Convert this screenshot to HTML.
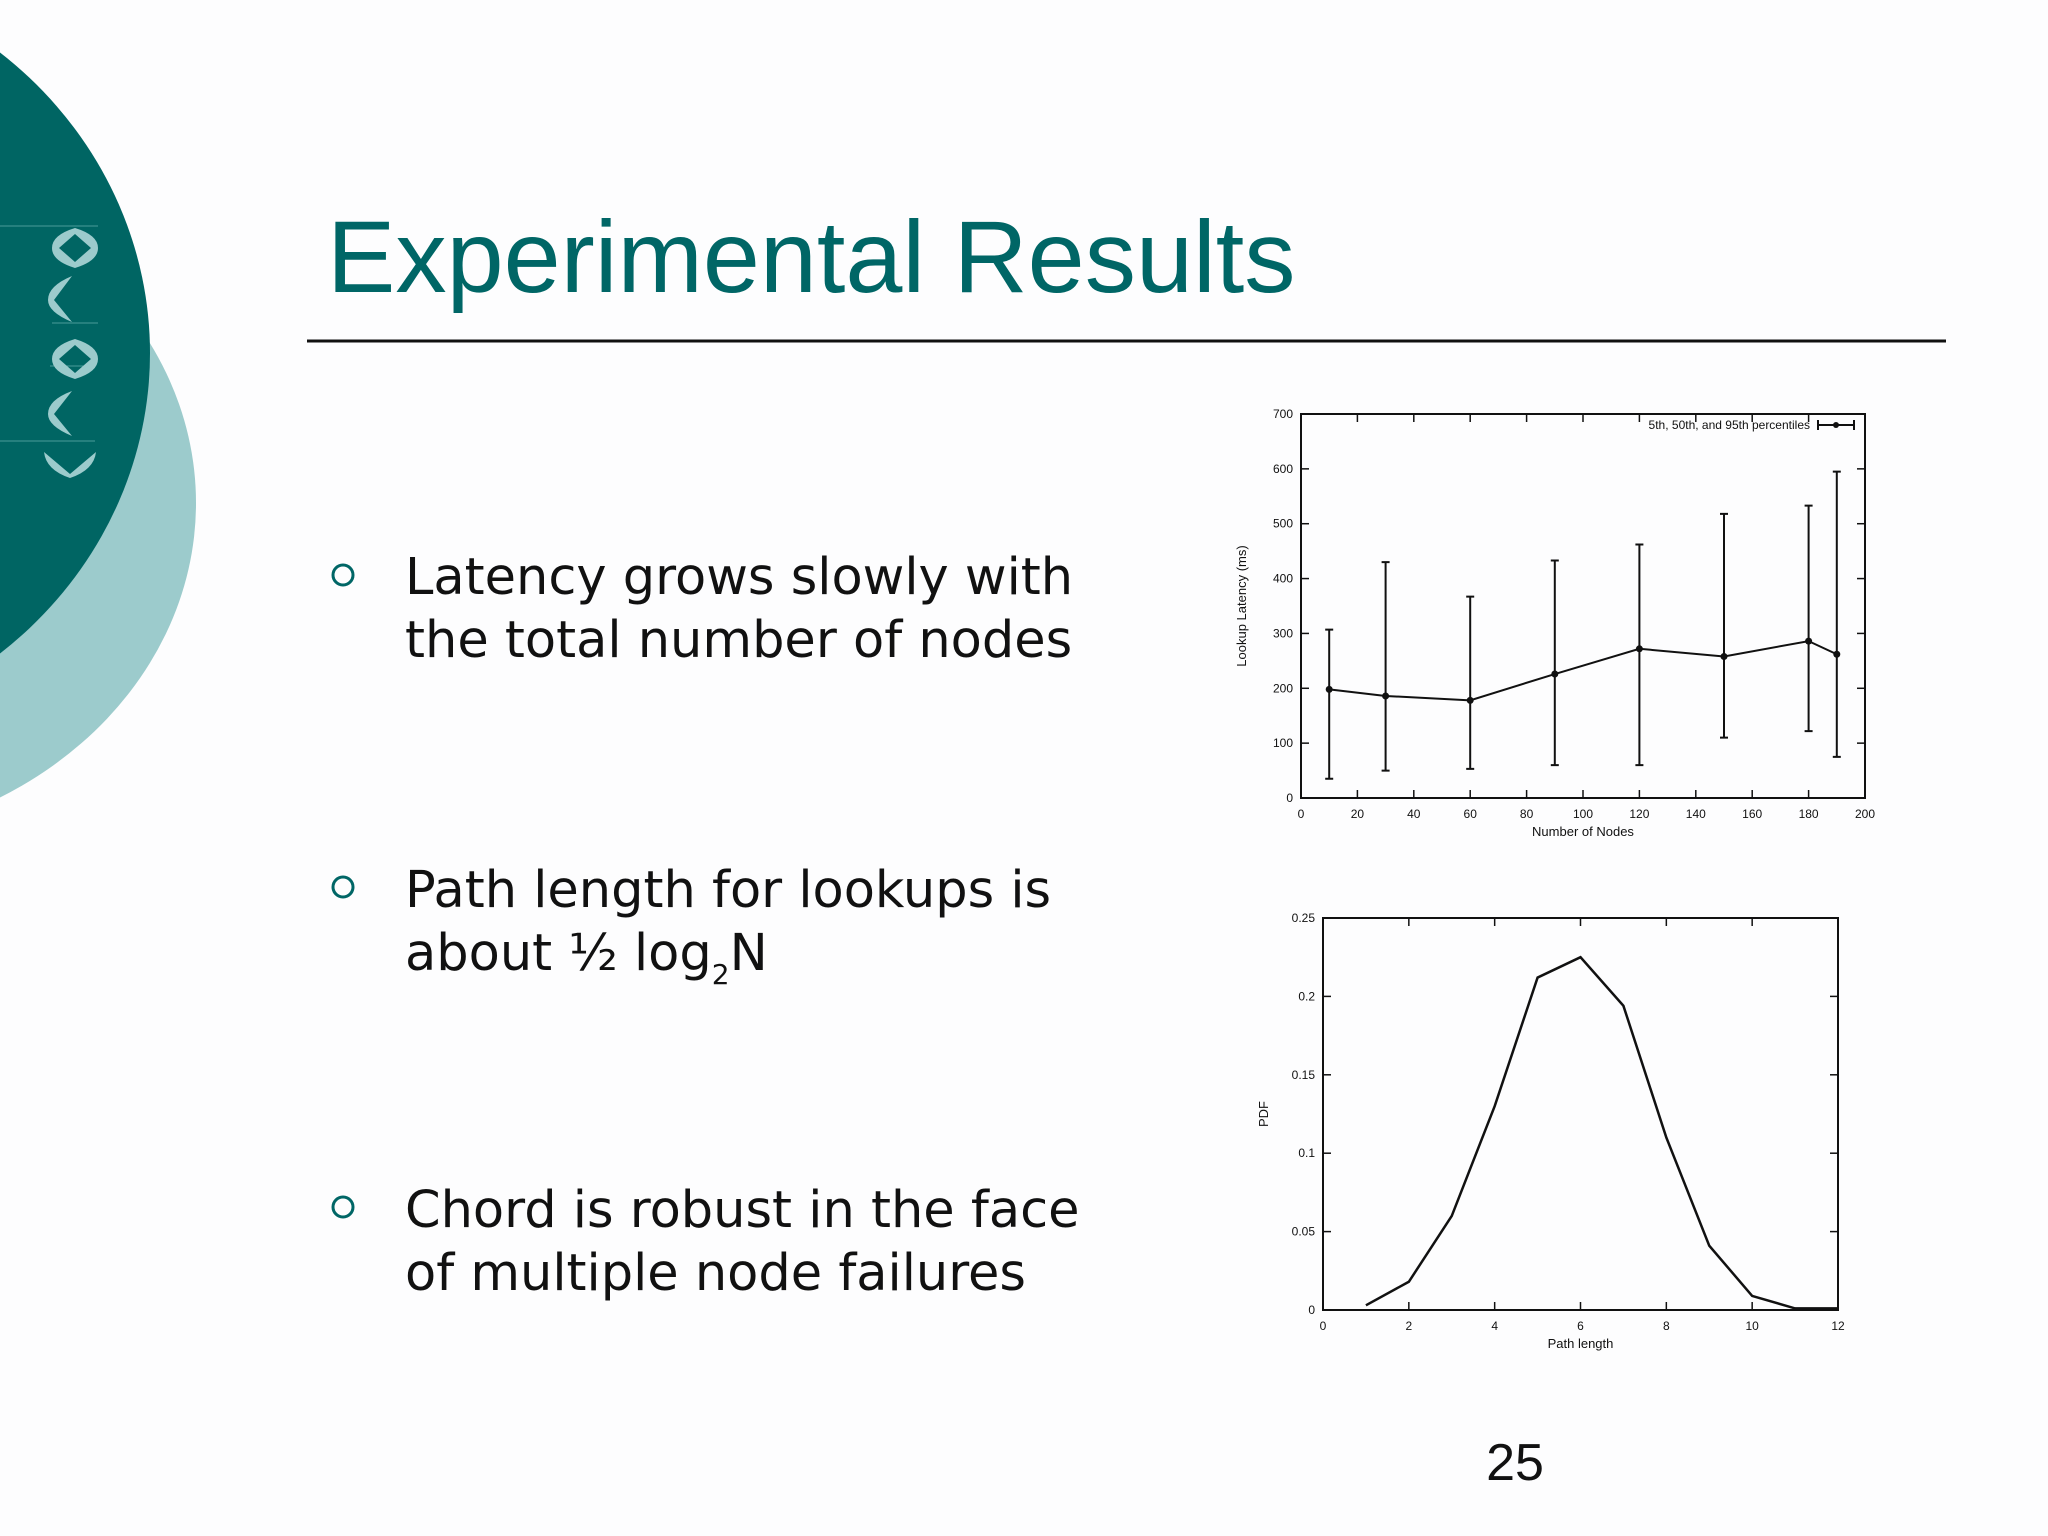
<!DOCTYPE html>
<html><head><meta charset="utf-8"><style>
html,body{margin:0;padding:0;background:#fdfdfe;}
svg{display:block;}
text{font-family:"Liberation Sans",sans-serif;}
</style></head><body>
<svg width="2048" height="1536" viewBox="0 0 2048 1536" xmlns="http://www.w3.org/2000/svg">
<rect width="2048" height="1536" fill="#fdfdfe"/>
<g>
<ellipse cx="-196" cy="503" rx="392" ry="340" fill="#9ccbcc"/>
<ellipse cx="-261" cy="353" rx="411" ry="389" fill="#006563"/>
<g fill="#9ccbcc" stroke="none">
<line x1="0" y1="226" x2="98" y2="226" stroke="#4a9a98" stroke-width="1"/>
<line x1="52" y1="323" x2="98" y2="323" stroke="#4a9a98" stroke-width="1"/>
<line x1="50" y1="366" x2="95" y2="366" stroke="#4a9a98" stroke-width="1"/>
<line x1="0" y1="441" x2="95" y2="441" stroke="#4a9a98" stroke-width="1"/>
<path d="M75 228 Q98 235 98 248 Q98 261 75 268 Q52 261 52 248 Q52 235 75 228 Z M75 234 L59 248 L75 262 L91 248 Z" fill-rule="evenodd"/>
<path d="M72 276 L54 300 L72 322 Q48 312 48 300 Q48 286 72 276 Z"/>
<path d="M75 339 Q98 346 98 359 Q98 372 75 379 Q52 372 52 359 Q52 346 75 339 Z M75 345 L59 359 L75 373 L91 359 Z" fill-rule="evenodd"/>
<path d="M72 391 L54 414 L72 436 Q48 426 48 414 Q48 400 72 391 Z"/>
<path d="M44 452 L70 474 L96 452 Q94 470 70 478 Q46 470 44 452 Z"/>
</g>
</g>
<text x="327" y="292" font-size="102.5" fill="#006666">Experimental Results</text>
<line x1="307" y1="341" x2="1946" y2="341" stroke="#111" stroke-width="3"/>
<g font-size="51" fill="#111">
<circle cx="343" cy="575" r="10" fill="none" stroke="#006666" stroke-width="3"/>
<text x="405" y="594" style="font-family:'DejaVu Sans',sans-serif">Latency grows slowly with</text>
<text x="405" y="657" style="font-family:'DejaVu Sans',sans-serif">the total number of nodes</text>
<circle cx="343" cy="887" r="10" fill="none" stroke="#006666" stroke-width="3"/>
<text x="405" y="907" style="font-family:'DejaVu Sans',sans-serif">Path length for lookups is</text>
<text x="405" y="970" style="font-family:'DejaVu Sans',sans-serif">about ½ log<tspan font-size="28" dy="14">2</tspan><tspan dy="-14">N</tspan></text>
<circle cx="343" cy="1207" r="10" fill="none" stroke="#006666" stroke-width="3"/>
<text x="405" y="1227" style="font-family:'DejaVu Sans',sans-serif">Chord is robust in the face</text>
<text x="405" y="1290" style="font-family:'DejaVu Sans',sans-serif">of multiple node failures</text>
</g>
<g id="chart1"></g>
<g id="chart2"></g>
<text x="1515" y="1480" font-size="52" text-anchor="middle" fill="#111">25</text>
</svg>
<script>
const NS="http://www.w3.org/2000/svg";
const latencyX=[10,30,60,90,120,150,180,190];
const latencyMedian=[198,186,178,226,272,258,286,262];
const latencyLow=[35,50,53,60,60,110,122,75];
const latencyHigh=[307,430,367,433,462,518,533,595];
const latencyXTicks=[0,20,40,60,80,100,120,140,160,180,200];
const latencyYTicks=[0,100,200,300,400,500,600,700];
const pathX=[1,2,3,4,5,6,7,8,9,10,11,12];
const pathPdf=[0.003,0.018,0.06,0.13,0.212,0.225,0.194,0.11,0.041,0.009,0.001,0.001];
const pathXTicks=[0,2,4,6,8,10,12];
const pathYTicks=[0,0.05,0.1,0.15,0.2,0.25];
const pathYLabels=["0","0.05","0.1","0.15","0.2","0.25"];

function mk(parent,tag,attrs,txt){const e=document.createElementNS(NS,tag);for(const k in attrs)e.setAttribute(k,attrs[k]);if(txt!==undefined)e.textContent=txt;parent.appendChild(e);return e;}

function axes(g,L,R,T,B,xmin,xmax,ymin,ymax,xt,yt,ylabels,xtitle,ytitle){
  const sx=v=>L+(v-xmin)/(xmax-xmin)*(R-L);
  const sy=v=>B-(v-ymin)/(ymax-ymin)*(B-T);
  const frame=mk(g,'rect',{x:L,y:T,width:R-L,height:B-T,fill:'none',stroke:'#111','stroke-width':2});
  
  
  xt.forEach(v=>{
    const x=sx(v);
    mk(g,'line',{x1:x,y1:B,x2:x,y2:B-8,stroke:'#111','stroke-width':1.5});
    mk(g,'line',{x1:x,y1:T,x2:x,y2:T+8,stroke:'#111','stroke-width':1.5});
    const t=mk(g,'text',{x:x,y:B+20,'font-size':12,'text-anchor':'middle',fill:'#111'},String(v));
    
    
  });
  yt.forEach((v,i)=>{
    const y=sy(v);
    mk(g,'line',{x1:L,y1:y,x2:L+8,y2:y,stroke:'#111','stroke-width':1.5});
    mk(g,'line',{x1:R,y1:y,x2:R-8,y2:y,stroke:'#111','stroke-width':1.5});
    const t=mk(g,'text',{x:L-8,y:y+4,'font-size':12,'text-anchor':'end',fill:'#111'},ylabels?ylabels[i]:String(v));
    
    
  });
  const xtT=mk(g,'text',{x:(L+R)/2,y:B+38,'font-size':13,'text-anchor':'middle',fill:'#111'},xtitle);
  
  
  const ytT=mk(g,'text',{x:0,y:0,'font-size':13,'text-anchor':'middle',fill:'#111',transform:`translate(${L-55},${(T+B)/2}) rotate(-90)`},ytitle);
  
  
  return [sx,sy];
}

(function(){
  const g=document.getElementById('chart1');
  const [sx,sy]=axes(g,1301,1865,414,798,0,200,0,700,latencyXTicks,latencyYTicks,null,'Number of Nodes','Lookup Latency (ms)');
  latencyX.forEach((x,i)=>{
    const X=sx(x);
    const bar=mk(g,'path',{d:`M${X} ${sy(latencyLow[i])}V${sy(latencyHigh[i])}M${X-4} ${sy(latencyLow[i])}H${X+4}M${X-4} ${sy(latencyHigh[i])}H${X+4}`,stroke:'#111','stroke-width':2,fill:'none'});
    
    
    const p=mk(g,'circle',{cx:X,cy:sy(latencyMedian[i]),r:3.5,fill:'#111'});
    
    
  });
  const line=mk(g,'polyline',{points:latencyX.map((x,i)=>sx(x)+','+sy(latencyMedian[i])).join(' '),fill:'none',stroke:'#111','stroke-width':2});
  
  
  const lg=mk(g,'text',{x:1810,y:429,'font-size':12,'text-anchor':'end',fill:'#111'},'5th, 50th, and 95th percentiles');
  
  
  const ls=mk(g,'path',{d:'M1818 425H1854M1818 420V430M1854 420V430',stroke:'#111','stroke-width':2});
  
  
  mk(g,'circle',{cx:1836,cy:425,r:3,fill:'#111'});
})();

(function(){
  const g=document.getElementById('chart2');
  const [sx,sy]=axes(g,1323,1838,918,1310,0,12,0,0.25,pathXTicks,pathYTicks,pathYLabels,'Path length','PDF');
  const line=mk(g,'polyline',{points:pathX.map((x,i)=>sx(x)+','+sy(pathPdf[i])).join(' '),fill:'none',stroke:'#111','stroke-width':2.5});
  
  
})();
</script>
</body></html>
